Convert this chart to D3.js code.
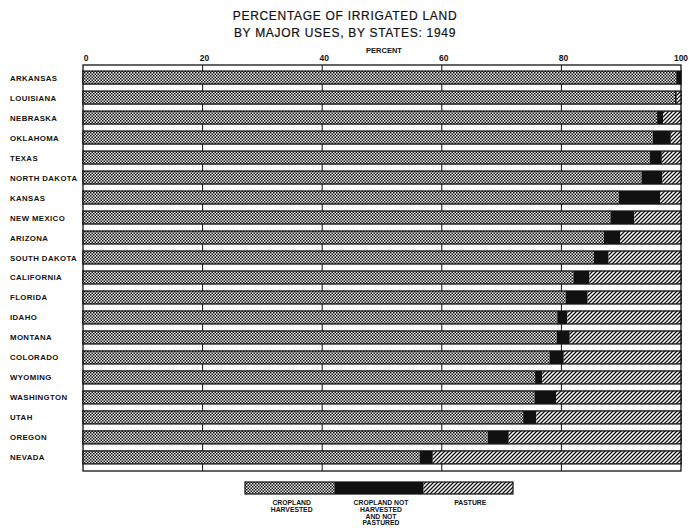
<!DOCTYPE html>
<html><head><meta charset="utf-8">
<script src="https://cdn.jsdelivr.net/npm/d3@7"></script>
<style>
body{margin:0;background:#fff;}
svg text{font-family:"Liberation Sans",Arial,sans-serif;fill:#111;}
</style></head>
<body><svg id="c" width="690" height="528"></svg>
<script>
const states = ["ARKANSAS","LOUISIANA","NEBRASKA","OKLAHOMA","TEXAS","NORTH DAKOTA","KANSAS","NEW MEXICO","ARIZONA","SOUTH DAKOTA","CALIFORNIA","FLORIDA","IDAHO","MONTANA","COLORADO","WYOMING","WASHINGTON","UTAH","OREGON","NEVADA"];
const harvested    = [99.2, 99.0, 96.0, 95.3, 94.8, 93.4, 89.6, 88.2, 87.1, 85.4, 82.0, 80.7, 79.3, 79.2, 78.0, 75.6, 75.5, 73.6, 67.7, 56.3];
const notHarvested = [0.8, 0.3, 1.0, 3.0, 2.0, 3.5, 6.9, 4.0, 2.7, 2.5, 2.7, 3.7, 1.7, 2.2, 2.4, 1.2, 3.6, 2.2, 3.5, 2.2];
const pasture      = [0.0, 0.7, 3.0, 1.7, 3.2, 3.1, 3.5, 7.8, 10.2, 12.1, 15.3, 15.6, 19.0, 18.6, 19.6, 23.2, 20.9, 24.2, 28.8, 41.5];
const ticks = [0, 20, 40, 60, 80, 100];
const legendLabels = [["CROPLAND","HARVESTED"],["CROPLAND NOT","HARVESTED","AND NOT","PASTURED"],["PASTURE"]];

const svg = d3.select("#c");
const defs = svg.append("defs");
// crosshatch (checker) pattern
const pc = defs.append("pattern").attr("id","cross").attr("width",3).attr("height",3).attr("patternUnits","userSpaceOnUse");
pc.append("rect").attr("width",3).attr("height",3).attr("fill","#eeeeee");
pc.append("rect").attr("x",0).attr("y",0).attr("width",1.5).attr("height",1.5).attr("fill","#111");
pc.append("rect").attr("x",1.5).attr("y",1.5).attr("width",1.5).attr("height",1.5).attr("fill","#111");
// diagonal hatch pattern
const ph = defs.append("pattern").attr("id","hatch").attr("width",4).attr("height",4).attr("patternUnits","userSpaceOnUse");
ph.append("rect").attr("width",4).attr("height",4).attr("fill","#fff");
ph.append("path").attr("d","M-1,1 L1,-1 M0,4 L4,0 M3,5 L5,3").attr("stroke","#111").attr("stroke-width",1.3);

const x = d3.scaleLinear().domain([0,100]).range([83,681]);
const y = d3.scaleBand().domain(states).range([67.5,467.5]).paddingInner(0.35).paddingOuter(0.18);
const frameTop = 65, frameBot = 471;

// title
svg.append("text").attr("x",345).attr("y",20).attr("text-anchor","middle").style("font-size","12px").style("letter-spacing","0.7px")
  .attr("stroke","#111").attr("stroke-width",0.2).text("PERCENTAGE OF IRRIGATED LAND");
svg.append("text").attr("x",345).attr("y",37).attr("text-anchor","middle").style("font-size","12px").style("letter-spacing","0.7px")
  .attr("stroke","#111").attr("stroke-width",0.2).text("BY MAJOR USES, BY STATES:  1949");
svg.append("text").attr("x",x(50)+2).attr("y",53).attr("text-anchor","middle").style("font-size","7.5px").style("font-weight","bold").text("PERCENT");

// tick labels
svg.selectAll(".tl").data(ticks).enter().append("text")
  .attr("x",d=>x(d)+(d===0?3:d===100?0:2)).attr("y",61).attr("text-anchor","middle")
  .style("font-size","8.5px").style("font-weight","bold").text(d=>d);

// frame and gridlines
const g = svg.append("g");
g.append("rect").attr("x",x(0)).attr("y",frameTop).attr("width",x(100)-x(0)).attr("height",frameBot-frameTop)
  .attr("fill","#fff").attr("stroke","#111").attr("stroke-width",1.3);
g.selectAll(".grid").data(ticks.slice(1,-1)).enter().append("line")
  .attr("x1",d=>x(d)).attr("x2",d=>x(d)).attr("y1",frameTop).attr("y2",frameBot)
  .attr("stroke","#111").attr("stroke-width",1);

// bars
const rows = states.map((s,i)=>({s, segs:[
  {v0:0, v1:harvested[i], f:"url(#cross)"},
  {v0:harvested[i], v1:harvested[i]+notHarvested[i], f:"#111"},
  {v0:harvested[i]+notHarvested[i], v1:Math.min(100,harvested[i]+notHarvested[i]+pasture[i]), f:"url(#hatch)"}
]}));
const rg = g.selectAll(".row").data(rows).enter().append("g");
rg.selectAll("rect").data(d=>d.segs.filter(s=>s.v1>s.v0).map(s=>({...s,st:d.s}))).enter().append("rect")
  .attr("x",d=>x(d.v0)).attr("width",d=>x(d.v1)-x(d.v0))
  .attr("y",d=>y(d.st)).attr("height",y.bandwidth()).attr("fill",d=>d.f);
rg.append("rect").attr("x",x(0)).attr("width",x(100)-x(0)).attr("y",d=>y(d.s)).attr("height",y.bandwidth())
  .attr("fill","none").attr("stroke","#111").attr("stroke-width",1.3);

// state labels
svg.selectAll(".sl").data(states).enter().append("text")
  .attr("x",10).attr("y",d=>y(d)+y.bandwidth()/2+3)
  .style("font-size","7.8px").style("font-weight","bold").style("letter-spacing","0.4px").text(d=>d);

// legend
const lx = d3.scaleLinear().domain([0,3]).range([245,513]);
const fills = ["url(#cross)","#111","url(#hatch)"];
svg.selectAll(".lg").data(fills).enter().append("rect")
  .attr("x",(d,i)=>lx(i)).attr("width",lx(1)-lx(0)).attr("y",482).attr("height",12).attr("fill",d=>d);
svg.append("rect").attr("x",lx(0)).attr("y",482).attr("width",lx(3)-lx(0)).attr("height",12)
  .attr("fill","none").attr("stroke","#111").attr("stroke-width",1.2);
legendLabels.forEach((lines,i)=>{
  lines.forEach((t,j)=>{
    svg.append("text").attr("x",(lx(i)+lx(i+1))/2+2).attr("y",505+j*6.8).attr("text-anchor","middle")
      .style("font-size","6.8px").style("font-weight","bold").text(t);
  });
});
</script></body></html>
